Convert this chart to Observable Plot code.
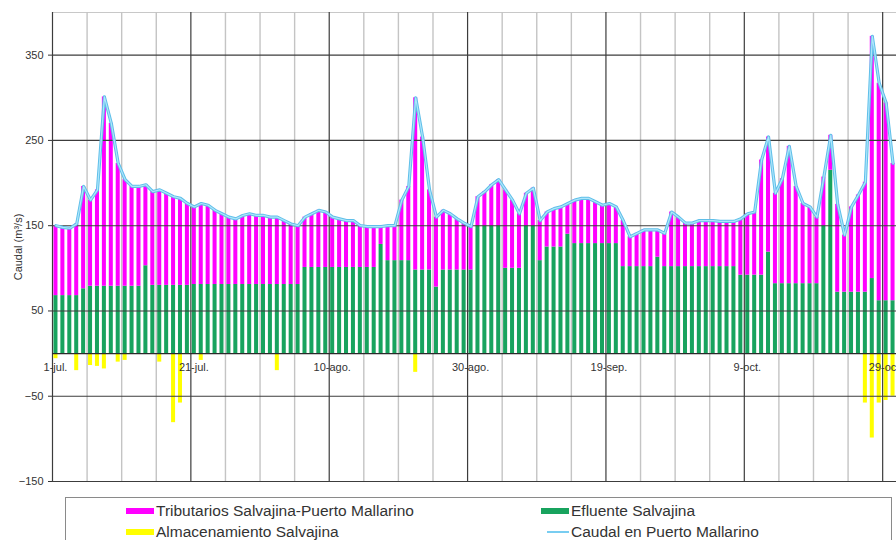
<!DOCTYPE html>
<html>
<head>
<meta charset="utf-8">
<script src="https://cdn.jsdelivr.net/npm/d3@7"></script>
<script src="https://cdn.jsdelivr.net/npm/@observablehq/plot@0.6"></script>
<style>
  body { margin: 0; background: #fff; font-family: "Liberation Sans", Arial, sans-serif; }
  #wrap { position: relative; width: 896px; height: 540px; overflow: hidden; background: #fff; }
  #chart svg { display: block; }
  #legend { position: absolute; left: 65px; top: 497px; width: 827px; height: 60px; border: 1px solid #8a8a8a; box-sizing: border-box; }
  .item { position: absolute; font-size: 15.5px; color: #333; white-space: nowrap; line-height: 18px; }
  .sw { position: absolute; }
</style>
</head>
<body>
<div id="wrap">
  <div id="chart"></div>
  <div id="legend"></div>
</div>
<script>
// Daily values from 1 July (index 0) to 30 October (index 121)
const caudal = [
  150,148,147,152,196,180,192,301,270,223,
  204,196,196,198,190,192,188,184,182,176,
  172,176,174,168,164,160,158,162,164,162,
  162,160,160,156,152,150,160,164,168,166,
  160,158,156,156,150,149,149,149,150,150,
  180,196,300,254,192,160,168,164,158,153,
  149,184,190,198,204,192,180,164,188,194,
  156,166,170,172,176,180,182,182,178,174,
  176,172,156,137,141,145,145,145,141,166,
  160,153,153,156,156,156,155,155,155,158,
  164,166,227,254,188,205,243,196,176,172,
  160,207,256,175,139,172,186,201,372,317,
  294,223
];
const efluente = [
  68,68,68,68,76,79,79,79,79,79,
  79,79,79,103,80,80,80,80,80,80,
  81,81,81,81,81,81,81,81,81,81,
  81,81,81,81,81,81,101,101,101,101,
  101,101,101,101,101,101,101,128,109,109,
  109,109,98,98,98,78,98,98,98,98,
  98,150,150,150,150,100,100,100,150,150,
  109,125,125,125,140,129,129,129,129,129,
  129,129,102,102,102,102,102,113,102,102,
  102,102,102,102,102,102,102,102,102,92,
  92,92,92,119,82,82,82,82,82,82,
  82,150,215,72,72,72,72,72,88,62,
  62,62
];
const almacenamiento = [
  -6,0,0,-20,0,-14,-15,-18,0,-10,
  -8,0,0,0,0,-10,0,-81,-58,0,
  0,-8,0,0,0,0,0,0,0,0,
  0,0,-20,0,0,0,0,0,0,0,
  0,0,0,0,0,0,0,0,0,0,
  0,0,-22,0,0,0,0,0,0,0,
  0,0,0,0,0,0,0,0,0,0,
  0,0,0,0,0,0,0,0,0,0,
  0,0,0,0,0,0,0,0,0,0,
  0,0,0,0,0,0,0,0,0,0,
  0,0,0,0,0,0,0,0,0,0,
  0,0,0,0,0,0,0,-58,-99,-58,
  -55,-50
];
const tickLabels = ["1-jul.","21-jul.","10-ago.","30-ago.","19-sep.","9-oct.","29-oct."];
const tickDayIndex = [0,20,40,60,80,100,120];
const yTicks = [350,250,150,50,-50,-150];
const seriesNames = ["Tributarios Salvajina-Puerto Mallarino","Efluente Salvajina","Almacenamiento Salvajina","Caudal en Puerto Mallarino"];
const colors = {trib: "#ff00ff", eflu: "#18a35e", alm: "#ffff00", line: "#78cdf1"};

const start = new Date(Date.UTC(2000, 6, 1));
const day = i => d3.utcDay.offset(start, i);
const table = caudal.map((c, i) => ({
  date: day(i), next: day(i + 1), mid: d3.utcHour.offset(day(i), 12),
  caudal: c, efluente: efluente[i], alm: almacenamiento[i]
}));
const ticks = tickDayIndex.map((k, j) => ({date: day(k), label: tickLabels[j]}));
const fiveDays = d3.range(0, 125, 5).filter(k => k % 20 !== 0).map(day);
const nDays = caudal.length;

const chart = Plot.plot({
  width: 896, height: 492,
  marginLeft: 52, marginRight: 0, marginTop: 12, marginBottom: 11,
  style: {fontFamily: "Liberation Sans, Arial, sans-serif", color: "#333", background: "#fff"},
  x: {type: "utc", domain: [day(0), day(nDays)], axis: null},
  y: {domain: [-150, 400], axis: null},
  marks: [
    Plot.ruleY([400], {stroke: "#c8c8c8"}),
    Plot.ruleX(fiveDays, {stroke: "#c4c4c4", strokeWidth: 1.4}),
    Plot.ruleX(ticks, {x: "date", stroke: "#3c3c3c", strokeWidth: 1.2}),
    Plot.rectY(table, {x1: "date", x2: "next", y1: 0, y2: "efluente", fill: colors.eflu, insetLeft: 1.45, insetRight: 1.45}),
    Plot.rectY(table, {x1: "date", x2: "next", y1: "efluente", y2: "caudal", fill: colors.trib, insetLeft: 1.45, insetRight: 1.45}),
    Plot.rectY(table, {x1: "date", x2: "next", y1: 0, y2: "alm", fill: colors.alm, insetLeft: 1.45, insetRight: 1.45}),
    Plot.ruleY(yTicks, {stroke: "#3c3c3c", strokeWidth: 1.1}),
    Plot.ruleY([0], {stroke: "#2a2a2a", strokeWidth: 1.3}),
    Plot.line(table, {x: "mid", y: "caudal", stroke: "#5fbfe9", strokeWidth: 3.2}),
    Plot.line(table, {x: "mid", y: "caudal", stroke: "#aee6fb", strokeWidth: 1.2}),
    Plot.axisY({ticks: yTicks, tickSize: 4, tickPadding: 5, fontSize: 11, label: "Caudal (m³/s)", labelAnchor: "center", labelOffset: 38, labelArrow: "none"}),
    Plot.text(ticks, {x: "date", y: 0, text: "label", dy: 14, dx: 3, fontSize: 11, fill: "#333"})
  ]
});
document.getElementById("chart").appendChild(chart);

// Legend
const lg = document.getElementById("legend");
const leg = [
  {name: seriesNames[0], color: colors.trib, x: 60, y: 13, type: "bar"},
  {name: seriesNames[2], color: colors.alm, x: 60, y: 34, type: "bar"},
  {name: seriesNames[1], color: colors.eflu, x: 475, y: 13, type: "bar"},
  {name: seriesNames[3], color: colors.line, x: 475, y: 34, type: "line"}
];
leg.forEach(d => {
  const sw = document.createElement("div");
  sw.className = "sw";
  if (d.type === "bar") {
    sw.style.cssText = `left:${d.x}px;top:${d.y - 3}px;width:28px;height:6px;background:${d.color};`;
  } else {
    sw.style.cssText = `left:${d.x + 6}px;top:${d.y - 1}px;width:22px;height:2px;background:${d.color};`;
  }
  lg.appendChild(sw);
  const t = document.createElement("div");
  t.className = "item";
  t.textContent = d.name;
  t.style.left = (d.x + 30) + "px";
  t.style.top = (d.y - 9) + "px";
  lg.appendChild(t);
});
</script>
</body>
</html>
